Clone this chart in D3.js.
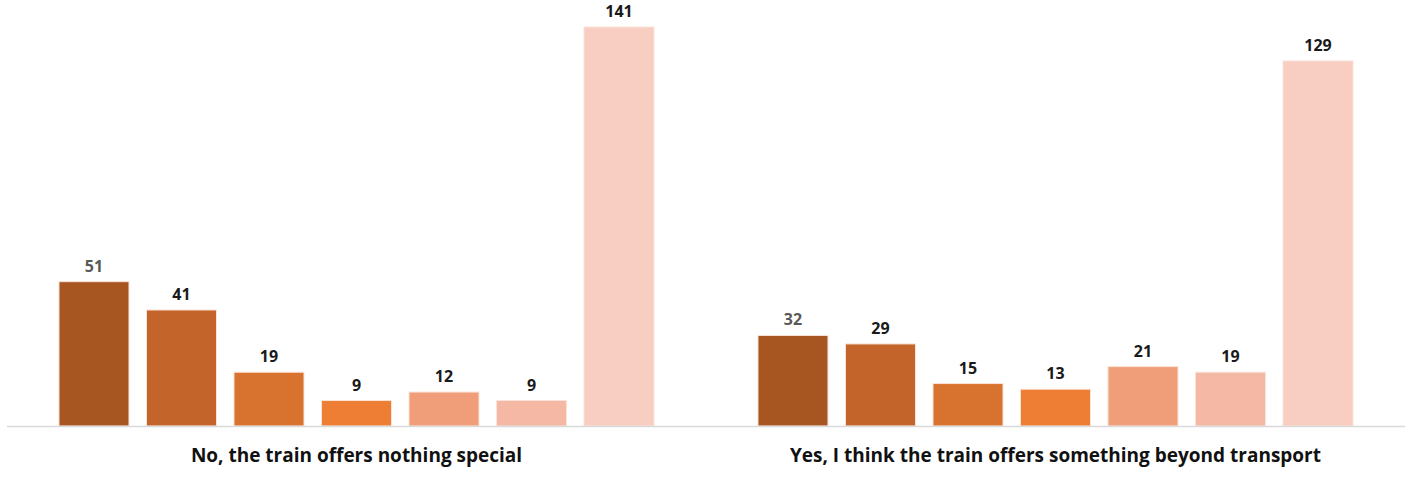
<!DOCTYPE html>
<html>
<head>
<meta charset="utf-8">
<script src="https://cdn.jsdelivr.net/npm/d3@7"></script>
<style>
  body { margin: 0; background: #fff; }
  text { font-family: "Open Sans", "Liberation Sans", sans-serif; font-weight: bold; }
</style>
</head>
<body>
<div id="graph"></div>
<script>
// answers (groups along the x axis)
var groups = ["No, the train offers nothing special", "Yes, I think the train offers something beyond transport"];
// seven series per group, left to right
var seriesKeys = ["s1", "s2", "s3", "s4", "s5", "s6", "s7"];
var noValues = [51, 41, 19, 9, 12, 9, 141];
var yesValues = [32, 29, 15, 13, 21, 19, 129];
var colors = ["#a75622", "#c3642a", "#d8722f", "#ee7e33", "#f09e7a", "#f4b8a4", "#f8cdc2"];

var allValues = [noValues, yesValues];

var width = 1408, height = 477,
    margin = {top: 27, right: 3, bottom: 51, left: 7};

var svg = d3.select("#graph").append("svg")
    .attr("width", width)
    .attr("height", height);

var x0 = d3.scaleBand()
    .domain(groups)
    .range([margin.left, width - margin.right]);

var x1 = d3.scaleBand()
    .domain(seriesKeys)
    .range([0, x0.bandwidth()])
    .paddingInner(0.2)
    .paddingOuter(0.594);

var y = d3.scaleLinear()
    .domain([0, 141])
    .range([height - margin.bottom, margin.top]);

var g = svg.selectAll(".group")
    .data(groups)
    .enter().append("g")
    .attr("class", "group")
    .attr("transform", function(d) { return "translate(" + x0(d) + ",0)"; });

var bars = g.selectAll(".bar")
    .data(function(d, i) {
        return allValues[i].map(function(v, j) { return {key: seriesKeys[j], value: v, idx: j}; });
    })
    .enter();

bars.append("rect")
    .attr("class", "bar")
    .attr("x", function(d) { return x1(d.key); })
    .attr("y", function(d) { return y(d.value); })
    .attr("width", x1.bandwidth())
    .attr("height", function(d) { return y(0) - y(d.value); })
    .attr("fill", function(d) { return colors[d.idx]; })
    .attr("stroke", "#fbe3d8")
    .attr("stroke-width", 1);

bars.append("text")
    .attr("x", function(d) { return x1(d.key) + x1.bandwidth() / 2; })
    .attr("y", function(d) { return y(d.value) - 10; })
    .attr("text-anchor", "middle")
    .attr("font-size", "16px")
    .attr("fill", function(d) { return d.idx === 0 ? "#595959" : "#1a1a1a"; })
    .text(function(d) { return d.value; });

// baseline
svg.append("line")
    .attr("x1", margin.left)
    .attr("x2", width - margin.right)
    .attr("y1", y(0) + 0.5)
    .attr("y2", y(0) + 0.5)
    .attr("stroke", "#d9d9d9")
    .attr("stroke-width", 1.5);

// category labels
svg.selectAll(".cat")
    .data(groups)
    .enter().append("text")
    .attr("class", "cat")
    .attr("x", function(d) { return x0(d) + x0.bandwidth() / 2; })
    .attr("y", 462)
    .attr("text-anchor", "middle")
    .attr("font-size", "19px")
    .attr("fill", "#111")
    .text(function(d) { return d; });
</script>
</body>
</html>
